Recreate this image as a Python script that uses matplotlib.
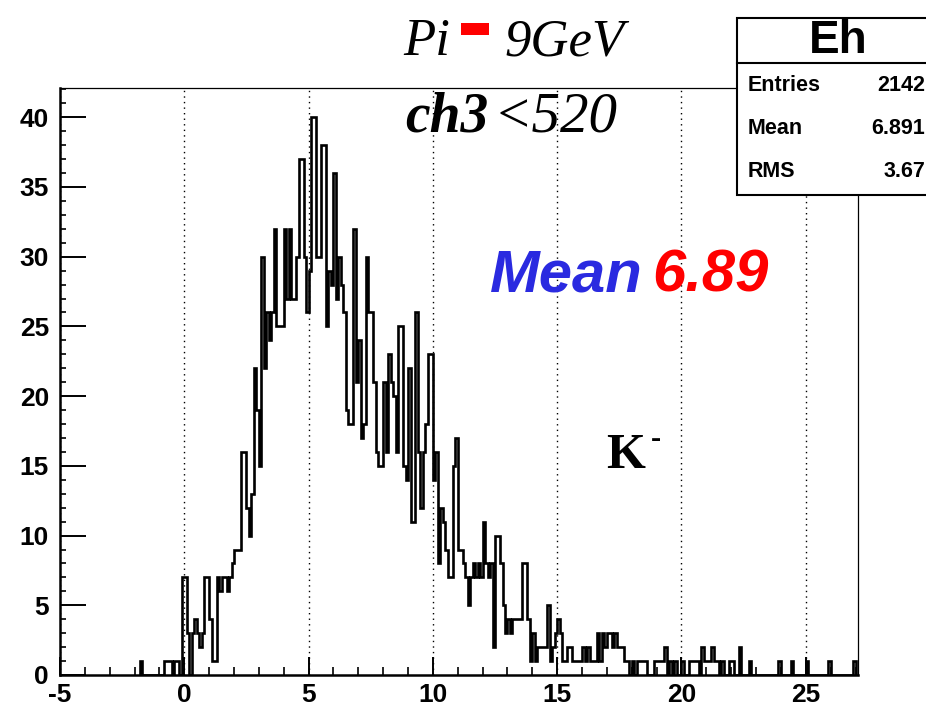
import matplotlib
matplotlib.use("Agg")
import matplotlib.pyplot as plt
import numpy as np
from matplotlib.lines import Line2D
from matplotlib.patches import Rectangle
from matplotlib.ticker import MultipleLocator

plt.rcParams["font.family"] = ["Liberation Sans", "DejaVu Sans"]
plt.rcParams["font.weight"] = "bold"
plt.rcParams["axes.unicode_minus"] = False

# Histogram "Eh": 0.1 wide bins, first bin starts at -1.8
BIN_START = -1.8
BIN_WIDTH = 0.1
neg_counts = [1, 0, 0, 0, 0, 0, 0, 0, 0, 0, 1, 1, 1, 0, 1, 1, 0, 7]
pos_counts = [
    7, 3, 0, 3, 4, 3, 2, 3, 7, 7,
    4, 1, 1, 7, 6, 7, 7, 6, 7, 8,
    9, 9, 9, 16, 16, 12, 10, 13, 22, 19,
    15, 30, 22, 26, 24, 26, 32, 25, 25, 25,
    32, 27, 32, 27, 27, 30, 37, 37, 30, 26,
    29, 40, 40, 30, 30, 38, 38, 25, 29, 28,
    36, 27, 30, 28, 26, 19, 18, 18, 32, 21,
    24, 17, 18, 30, 26, 26, 21, 16, 15, 15,
    21, 16, 23, 21, 20, 16, 25, 25, 15, 14,
    22, 11, 11, 26, 16, 12, 16, 18, 23, 23,
    14, 16, 8, 12, 11, 9, 7, 7, 15, 17,
    9, 9, 8, 7, 5, 7, 8, 7, 8, 7,
    11, 8, 7, 8, 2, 10, 10, 8, 5, 3,
    4, 3, 4, 4, 4, 4, 8, 8, 4, 1,
    3, 1, 2, 2, 2, 2, 5, 1, 2, 3,
    4, 3, 1, 1, 2, 2, 1, 1, 1, 1,
    2, 1, 2, 1, 1, 1, 3, 1, 3, 2,
    3, 3, 2, 3, 2, 2, 2, 1, 1, 0,
    1, 0, 1, 1, 1, 1, 0, 0, 0, 1,
    1, 1, 1, 2, 0, 1, 0, 1, 0, 0,
    1, 0, 0, 1, 1, 1, 1, 0, 2, 1,
    1, 1, 2, 1, 1, 0, 1, 0, 0, 1,
    1, 0, 0, 2, 0, 0, 0, 1, 0, 0,
    0, 0, 0, 0, 0, 0, 0, 0, 0, 1,
    0, 0, 0, 0, 1, 0, 0, 0, 0, 0,
    1, 0, 0, 0, 0, 0, 0, 0, 0, 1,
    0, 0, 0, 0, 0, 0, 0, 0, 0, 1,
]

stat_names = ["Entries", "Mean", "RMS"]
stat_values = ["2142", "6.891", "3.67"]

W, H = 926, 709


def fx(px):
    return px / W


def fy(py):
    return 1 - py / H


counts = np.array(neg_counts + pos_counts, dtype=float)
edges = np.round(BIN_START + BIN_WIDTH * np.arange(len(counts) + 1), 3)

fig = plt.figure(figsize=(W / 100, H / 100), dpi=100)
ax = fig.add_axes([fx(60), fy(675), (858 - 60) / W, (675 - 88) / H])

ax.stairs(counts, edges, color="black", linewidth=1.9, baseline=0, zorder=3)
ax.set_xlim(-5, 27.1)
ax.set_ylim(0, 42.1)

ax.xaxis.set_major_locator(MultipleLocator(5))
ax.xaxis.set_minor_locator(MultipleLocator(1))
ax.yaxis.set_major_locator(MultipleLocator(5))
ax.yaxis.set_minor_locator(MultipleLocator(1))
ax.xaxis.grid(True, which="major", linestyle=(0, (1, 3)), color="black", linewidth=1.0)

ax.tick_params(axis="x", which="major", direction="in", length=13, width=1.4,
               labelsize=19, pad=6)
ax.tick_params(axis="x", which="minor", direction="in", length=6, width=1.2)
ax.tick_params(axis="y", which="major", direction="in", length=19, width=1.4,
               labelsize=19, pad=8)
ax.tick_params(axis="y", which="minor", direction="in", length=4, width=1.2)

for side in ["left", "bottom"]:
    ax.spines[side].set_linewidth(1.8)
for side in ["top", "right"]:
    ax.spines[side].set_linewidth(0.9)

# title lines
fig.text(fx(403), fy(55), "Pi", family="Liberation Serif", fontstyle="italic",
         fontweight="normal", fontsize=38, va="baseline")
fig.add_artist(Rectangle((fx(461), fy(35)), 28 / W, 12 / H, transform=fig.transFigure,
                         facecolor="red", edgecolor="none"))
fig.text(fx(504), fy(55), "9GeV", family="Liberation Serif", fontstyle="italic",
         fontweight="normal", fontsize=38, va="baseline")
fig.text(fx(405), fy(132), "ch3", family="Liberation Serif", fontstyle="italic",
         fontweight="bold", fontsize=40, va="baseline")
fig.text(fx(494), fy(132), "<520", family="Liberation Serif", fontstyle="italic",
         fontweight="normal", fontsize=41, va="baseline")

fig.text(fx(490), fy(292), "Mean", color="#2a2ae0", fontstyle="italic",
         fontweight="bold", fontsize=43, va="baseline")
fig.text(fx(652), fy(292), "6.89", color="#ff0000", fontstyle="italic",
         fontweight="bold", fontsize=43, va="baseline")

fig.text(fx(606), fy(468), "K", family="Liberation Serif", fontweight="bold",
         fontsize=36, va="baseline")
fig.text(fx(651), fy(447), "-", family="Liberation Serif", fontweight="bold",
         fontsize=22, va="baseline")

# statistics box
fig.add_artist(Rectangle((fx(737), fy(195)), (960 - 737) / W, (195 - 18) / H,
                         transform=fig.transFigure, facecolor="white",
                         edgecolor="black", linewidth=1.5, zorder=5))
fig.add_artist(Line2D([fx(737), 1.0], [fy(63), fy(63)], transform=fig.transFigure,
                      color="black", linewidth=1.5, zorder=6))
fig.text(fx(838), fy(53), "Eh", ha="center", va="baseline", fontsize=33,
         fontweight="bold", zorder=7)
for i, (name, value) in enumerate(zip(stat_names, stat_values)):
    base = 91 + 43 * i
    fig.text(fx(748), fy(base), name, va="baseline", fontsize=15.5,
             fontweight="bold", zorder=7)
    fig.text(fx(925), fy(base), value, ha="right", va="baseline", fontsize=15.5,
             fontweight="bold", zorder=7)

fig.savefig("out.png", dpi=100)
